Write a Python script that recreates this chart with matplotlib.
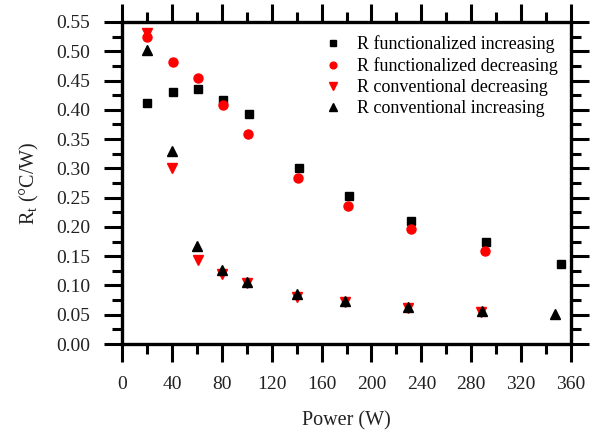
import matplotlib
matplotlib.use("Agg")
import matplotlib.pyplot as plt
from matplotlib.ticker import MultipleLocator

plt.rcParams['font.family'] = ['Liberation Serif', 'DejaVu Serif']
plt.rcParams['mathtext.fontset'] = 'custom'
plt.rcParams['mathtext.rm'] = 'Liberation Serif'

# functionalized, increasing power
p_fi = [20, 41, 61, 81, 102, 142, 182, 232, 292, 352]
r_fi = [0.411, 0.430, 0.435, 0.417, 0.393, 0.300, 0.253, 0.210, 0.175, 0.137]
# functionalized, decreasing power
p_fd = [20, 41, 61, 81, 101, 141, 181, 232, 291]
r_fd = [0.525, 0.482, 0.455, 0.408, 0.358, 0.284, 0.235, 0.197, 0.158]
# conventional, decreasing power
p_cd = [20, 40, 61, 80, 100, 140, 179, 229, 288]
r_cd = [0.531, 0.300, 0.144, 0.119, 0.104, 0.081, 0.071, 0.062, 0.055]
# conventional, increasing power
p_ci = [20, 40, 60, 80, 100, 140, 179, 229, 289, 347]
r_ci = [0.503, 0.330, 0.168, 0.127, 0.106, 0.085, 0.073, 0.064, 0.056, 0.051]

fig = plt.figure(figsize=(5.94, 4.32), dpi=100)
ax = fig.add_axes([0.2054, 0.2037, 0.7559, 0.7454])

ax.plot(p_fi, r_fi, 's', color='black', ms=5.5, label='R functionalized increasing', zorder=3)
ax.plot(p_fd, r_fd, 'o', color='red', ms=6.5, label='R functionalized decreasing', zorder=3)
ax.plot(p_cd, r_cd, 'v', color='red', ms=7, label='R conventional decreasing', zorder=3)
ax.plot(p_ci, r_ci, '^', color='black', ms=7, label='R conventional increasing', zorder=4)

ax.set_xlim(0, 360)
ax.set_ylim(0, 0.55)
ax.xaxis.set_major_locator(MultipleLocator(40))
ax.xaxis.set_minor_locator(MultipleLocator(20))
ax.yaxis.set_major_locator(MultipleLocator(0.05))
ax.yaxis.set_minor_locator(MultipleLocator(0.025))
ax.yaxis.set_major_formatter(matplotlib.ticker.FormatStrFormatter('%.2f'))

for s in ax.spines.values():
    s.set_linewidth(2.4)
ax.tick_params(which='both', direction='out', top=True, right=True,
               labeltop=False, labelright=False, width=2.2, labelsize=14,
               labelcolor='#222222')
ax.tick_params(which='major', length=13, pad=10)
ax.tick_params(which='minor', length=7)

ax.set_xlabel('Power (W)', fontsize=14.5, color='#222222', labelpad=13)
ax.set_ylabel('R$_\\mathrm{t}$ (°C/W)', fontsize=14.5, color='#222222', labelpad=11)

ax.legend(loc='upper right', frameon=False, fontsize=13, handlelength=1.2,
          handletextpad=0.7, labelspacing=0.22, markerscale=0.75,
          borderaxespad=0.45, borderpad=0.3)

fig.savefig('out.png', dpi=100)
